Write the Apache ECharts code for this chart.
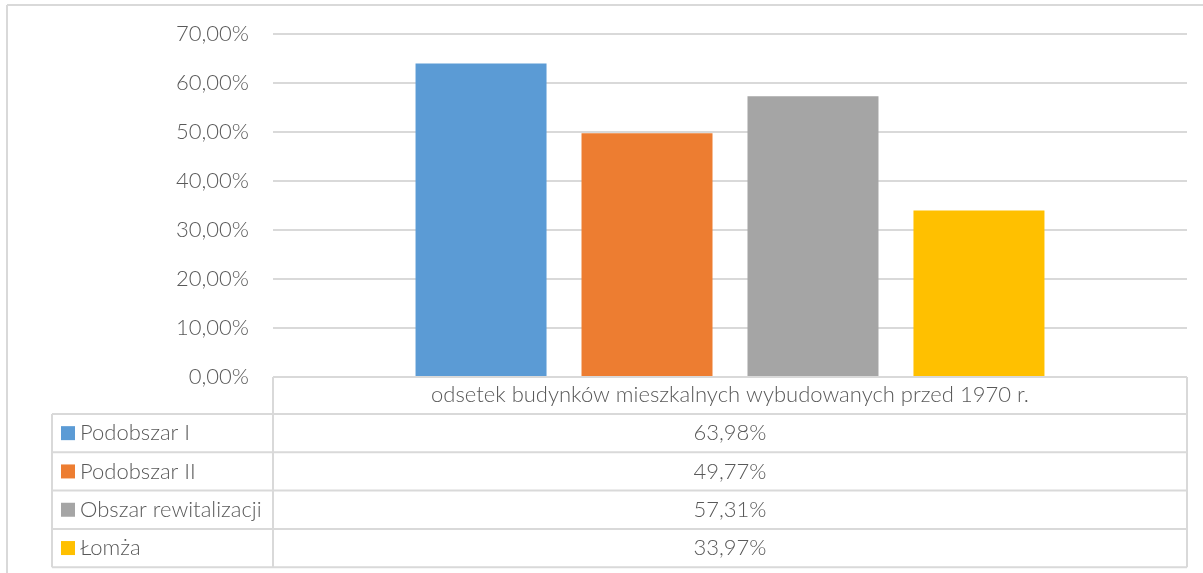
<!DOCTYPE html>
<html>
<head>
<meta charset="utf-8">
<script src="https://cdn.jsdelivr.net/npm/echarts@6/dist/echarts.min.js"></script>
<style>
  html, body { margin: 0; padding: 0; background: #fff; }
  #chart { width: 1203px; height: 573px; }
</style>
</head>
<body>
<div id="chart"></div>
<script>
// Share of residential buildings built before 1970, by area
const categories = ['odsetek budynków mieszkalnych wybudowanych przed 1970 r.'];
const seriesNames = ['Podobszar I', 'Podobszar II', 'Obszar rewitalizacji', 'Łomża'];
const seriesValues = [63.98, 49.77, 57.31, 33.97];
const seriesColors = ['#5b9bd5', '#ed7d31', '#a5a5a5', '#ffc000'];
const yTicks = [0, 10, 20, 30, 40, 50, 60, 70];

const FONT = 'Lato';
const WEIGHT = 300;
const SIZE = 22;
const TEXT = '#595959';
const LINE = '#d9d9d9';

// layout of plot and data table
const W = 1203, H = 573;
const plotL = 273, plotR = 1187, plotT = 34, plotB = 377;
const tableL = 52;
const headerB = 414;
const rowH = 38.3;

const fmt = v => v.toFixed(2).replace('.', ',') + '%';
const cssFont = `${WEIGHT} ${SIZE}px ${FONT}`;

const chart = echarts.init(document.getElementById('chart'), null, { renderer: 'canvas' });

function tableGraphics() {
  const g = [];
  const line = (x1, y1, x2, y2) => g.push({
    type: 'line', silent: true, z: 10,
    shape: { x1, y1, x2, y2 },
    style: { stroke: LINE, lineWidth: 2 }
  });
  // outer frame (left and top edges)
  line(7, 5, 7, H);
  line(7, 5, W, 5);
  const tableB = headerB + rowH * seriesNames.length;
  // header cell borders
  line(plotL, plotB, plotL, tableB);
  line(plotR, plotB, plotR, tableB);
  line(plotL, plotB, plotR, plotB);
  line(tableL, headerB, plotR, headerB);
  line(tableL, headerB, tableL, tableB);
  seriesNames.forEach((name, i) => {
    const top = headerB + rowH * i;
    const mid = top + rowH / 2;
    line(tableL, top + rowH, plotR, top + rowH);
    g.push({
      type: 'rect', silent: true, z: 11,
      shape: { x: 61, y: mid - 7, width: 14, height: 14 },
      style: { fill: seriesColors[i] }
    });
    g.push({
      type: 'text', silent: true, z: 11,
      x: 80, y: mid,
      style: { text: name, fill: TEXT, font: cssFont, verticalAlign: 'middle', align: 'left' }
    });
    g.push({
      type: 'text', silent: true, z: 11,
      x: (plotL + plotR) / 2, y: mid,
      style: { text: fmt(seriesValues[i]), fill: TEXT, font: cssFont, verticalAlign: 'middle', align: 'center' }
    });
  });
  return g;
}

chart.setOption({
  backgroundColor: '#fff',
  animation: false,
  grid: { left: plotL, right: W - plotR, top: plotT, bottom: H - plotB, containLabel: false },
  xAxis: {
    type: 'category',
    data: categories,
    axisLine: { show: false },
    axisTick: { show: false },
    axisLabel: { color: TEXT, fontFamily: FONT, fontWeight: WEIGHT, fontSize: SIZE, margin: 7, verticalAlign: 'top' }
  },
  yAxis: {
    type: 'value',
    min: yTicks[0],
    max: yTicks[yTicks.length - 1],
    interval: 10,
    axisLine: { show: false },
    axisTick: { show: false },
    splitLine: { lineStyle: { color: LINE, width: 2 } },
    axisLabel: { color: TEXT, fontFamily: FONT, fontWeight: WEIGHT, fontSize: SIZE, margin: 24, formatter: v => fmt(v) }
  },
  series: seriesNames.map((name, i) => ({
    type: 'bar',
    name,
    data: [seriesValues[i]],
    barWidth: 131,
    barGap: '26.7%',
    itemStyle: { color: seriesColors[i] }
  })),
  graphic: tableGraphics()
});
</script>
</body>
</html>
